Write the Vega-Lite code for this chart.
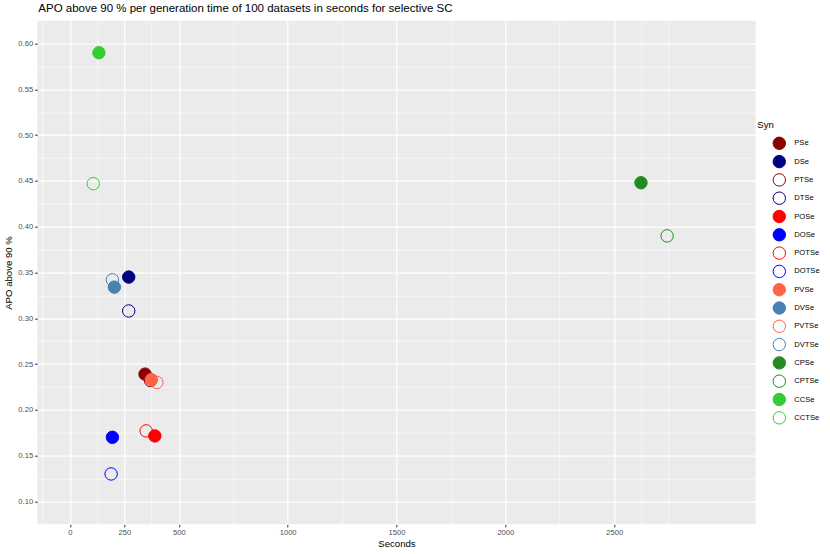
{
  "$schema": "https://vega.github.io/schema/vega-lite/v6.json",
  "width": 718.4,
  "height": 503.6,
  "autosize": {"type": "none"},
  "padding": {"left": 37.3, "top": 20.7, "right": 74.3, "bottom": 29.7},
  "background": "white",
  "title": {
    "text": "APO above 90 % per generation time of 100 datasets in seconds for selective SC",
    "anchor": "start",
    "frame": "group",
    "font": "Liberation Sans",
    "fontSize": 11.5,
    "fontWeight": "normal",
    "color": "black",
    "baseline": "alphabetic",
    "offset": -3,
    "dx": 1
  },
  "config": {
    "view": {"fill": "#EBEBEB", "stroke": null},
    "font": "Liberation Sans"
  },
  "data": {
    "values": [
      {"Syn": "CCTSe", "seconds": 107, "apo": 0.447},
      {"Syn": "DVTSe", "seconds": 195, "apo": 0.342},
      {"Syn": "DTSe", "seconds": 270, "apo": 0.308},
      {"Syn": "PTSe", "seconds": 370, "apo": 0.232},
      {"Syn": "POTSe", "seconds": 350, "apo": 0.177},
      {"Syn": "PVTSe", "seconds": 399, "apo": 0.230},
      {"Syn": "DOTSe", "seconds": 189, "apo": 0.130},
      {"Syn": "CPTSe", "seconds": 2743, "apo": 0.390},
      {"Syn": "CCSe", "seconds": 133, "apo": 0.590},
      {"Syn": "DVSe", "seconds": 204, "apo": 0.334},
      {"Syn": "DSe", "seconds": 270, "apo": 0.345},
      {"Syn": "PSe", "seconds": 345, "apo": 0.239},
      {"Syn": "PVSe", "seconds": 374, "apo": 0.233},
      {"Syn": "POSe", "seconds": 390, "apo": 0.1715},
      {"Syn": "DOSe", "seconds": 195, "apo": 0.170},
      {"Syn": "CPSe", "seconds": 2623, "apo": 0.448}
    ]
  },
  "mark": {"type": "circle", "size": 154, "strokeWidth": 1, "opacity": 1},
  "encoding": {
    "x": {
      "field": "seconds",
      "type": "quantitative",
      "scale": {"domain": [-150, 3150], "nice": false, "zero": false},
      "axis": {
        "title": "Seconds",
        "values": [-125, 0, 125, 250, 375, 500, 750, 1000, 1250, 1500, 1750, 2000, 2250, 2500, 2625, 2750],
        "labelExpr": "indexof([0,250,500,1000,1500,2000,2500], datum.value) >= 0 ? datum.label : ''",
        "format": "d",
        "labelOverlap": false,
        "labelFlush": false,
        "labelBound": false,
        "grid": true,
        "gridColor": "white",
        "gridOpacity": 1,
        "gridWidth": {"condition": {"test": "indexof([0,250,500,1000,1500,2000,2500], datum.value) >= 0", "value": 1.2}, "value": 0.6},
        "domain": false,
        "ticks": true,
        "tickColor": "#333333",
        "tickSize": 2.7,
        "tickWidth": 1,
        "tickOpacity": {"condition": {"test": "indexof([0,250,500,1000,1500,2000,2500], datum.value) >= 0", "value": 1}, "value": 0},
        "labelFont": "Liberation Sans",
        "labelFontSize": 7.6,
        "labelColor": "#4D4D4D",
        "labelPadding": 1.5,
        "titleFont": "Liberation Sans",
        "titleFontSize": 9.6,
        "titleFontWeight": "normal",
        "titleColor": "black",
        "titlePadding": 2
      }
    },
    "y": {
      "field": "apo",
      "type": "quantitative",
      "scale": {"domain": [0.075, 0.625], "nice": false, "zero": false},
      "axis": {
        "title": "APO above 90 %",
        "values": [0.1, 0.125, 0.15, 0.175, 0.2, 0.225, 0.25, 0.275, 0.3, 0.325, 0.35, 0.375, 0.4, 0.425, 0.45, 0.475, 0.5, 0.525, 0.55, 0.575, 0.6],
        "labelExpr": "abs(datum.value*20 - round(datum.value*20)) < 0.001 ? format(datum.value, '.2f') : ''",
        "labelOverlap": false,
        "labelFlush": false,
        "labelBound": false,
        "grid": true,
        "gridColor": "white",
        "gridOpacity": 1,
        "gridWidth": {"condition": {"test": "abs(datum.value*20 - round(datum.value*20)) < 0.001", "value": 1.2}, "value": 0.6},
        "domain": false,
        "tickColor": "#333333",
        "tickSize": 2.7,
        "tickWidth": 1,
        "tickOpacity": {"condition": {"test": "abs(datum.value*20 - round(datum.value*20)) < 0.001", "value": 1}, "value": 0},
        "labelFont": "Liberation Sans",
        "labelFontSize": 7.6,
        "labelColor": "#4D4D4D",
        "labelPadding": 2,
        "titleFont": "Liberation Sans",
        "titleFontSize": 9.6,
        "titleFontWeight": "normal",
        "titleColor": "black",
        "titlePadding": 4
      }
    },
    "fill": {
      "field": "Syn",
      "type": "nominal",
      "scale": {
        "domain": ["PSe", "DSe", "PTSe", "DTSe", "POSe", "DOSe", "POTSe", "DOTSe", "PVSe", "DVSe", "PVTSe", "DVTSe", "CPSe", "CPTSe", "CCSe", "CCTSe"],
        "range": ["#8B0000", "#000080", "transparent", "transparent", "#FF0000", "#0000FF", "transparent", "transparent", "#FF6347", "#4682B4", "transparent", "transparent", "#228B22", "transparent", "#32CD32", "transparent"]
      },
      "legend": {
        "title": "Syn",
        "orient": "none",
        "legendX": 720,
        "legendY": 99,
        "padding": 0,
        "symbolType": "circle",
        "symbolSize": 154,
        "symbolStrokeWidth": 1,
        "symbolOpacity": 1,
        "symbolOffset": 15,
        "labelOffset": 8,
        "rowPadding": 0.3,
        "titlePadding": 7,
        "titleFont": "Liberation Sans",
        "titleFontSize": 9.6,
        "titleFontWeight": "normal",
        "titleColor": "black",
        "labelFont": "Liberation Sans",
        "labelFontSize": 7.6,
        "labelColor": "black"
      }
    },
    "stroke": {
      "field": "Syn",
      "type": "nominal",
      "scale": {
        "domain": ["PSe", "DSe", "PTSe", "DTSe", "POSe", "DOSe", "POTSe", "DOTSe", "PVSe", "DVSe", "PVTSe", "DVTSe", "CPSe", "CPTSe", "CCSe", "CCTSe"],
        "range": ["#8B0000", "#000080", "#8B0000", "#000080", "#FF0000", "#0000FF", "#FF0000", "#0000FF", "#FF6347", "#4682B4", "#FF6347", "#4682B4", "#228B22", "#228B22", "#32CD32", "#32CD32"]
      }
    }
  }
}
